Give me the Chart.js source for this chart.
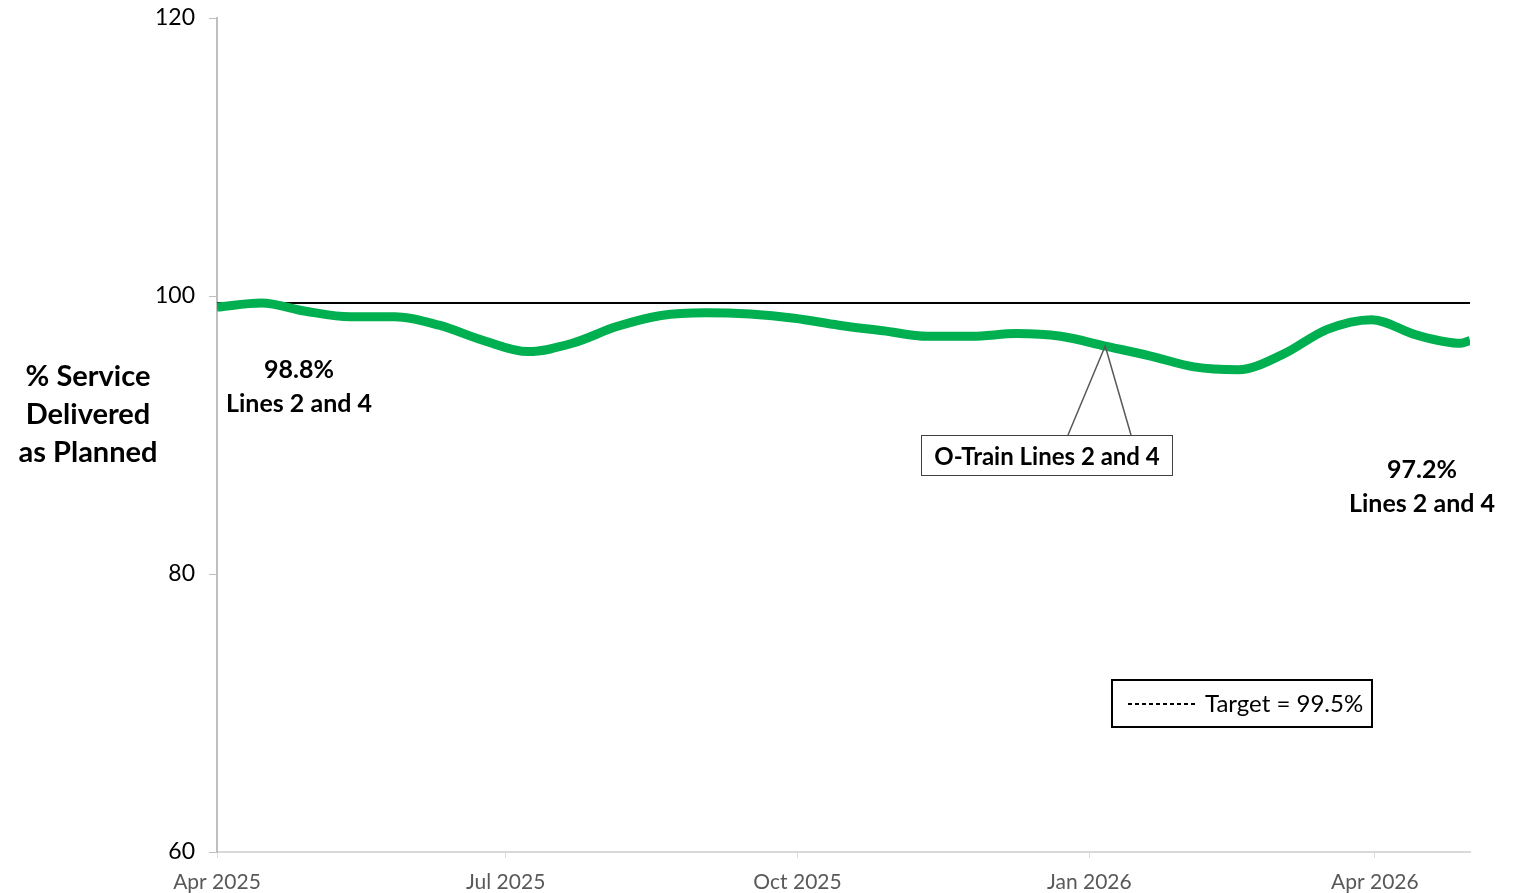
<!DOCTYPE html>
<html>
<head>
<meta charset="utf-8">
<script src="https://cdn.jsdelivr.net/npm/chart.js@4"></script>
<style>
  html, body { margin: 0; padding: 0; background: #fff; }
  #wrap { width: 1524px; height: 893px; }
</style>
</head>
<body>
<div id="wrap"><canvas id="chart"></canvas></div>
<script>
// days since 1 Apr 2025
const days = [0, 14, 28, 42, 56, 70, 84, 98, 112, 126, 140, 154, 168, 182, 196, 210,
              224, 238, 252, 266, 280, 294, 308, 322, 336, 350, 364, 378, 392, 395];
const serviceDelivered = [99.2, 99.5, 98.9, 98.5, 98.5, 97.9, 96.8, 96.0, 96.6, 97.8, 98.6, 98.8, 98.7, 98.4, 97.9, 97.5,
                          97.1, 97.1, 97.3, 97.1, 96.4, 95.7, 94.9, 94.7, 95.8, 97.6, 98.3, 97.2, 96.6, 96.8];
const targetValue = 99.5;
const tickDays = [0, 91, 183, 275, 365];
const tickLabels = ['Apr 2025', 'Jul 2025', 'Oct 2025', 'Jan 2026', 'Apr 2026'];
const yTicks = [60, 80, 100, 120];
const calloutDay = 280;

const FONT = 'Lato, "Open Sans", sans-serif';

const lineData = days.map((d, i) => ({ x: d, y: serviceDelivered[i] }));
const targetData = [{ x: days[0], y: targetValue }, { x: days[days.length - 1], y: targetValue }];

// Text, callout and target box
const extrasPlugin = {
    id: 'extras',
    afterDraw(chart) {
        const ctx = chart.ctx;
        const xs = chart.scales.x;
        const ys = chart.scales.y;
        ctx.save();
        ctx.fillStyle = '#000';
        ctx.textAlign = 'center';
        ctx.textBaseline = 'middle';

        // axis title
        ctx.font = 'bold 29px ' + FONT;
        ctx.fillText('% Service', 88, 377);
        ctx.fillText('Delivered', 88, 415);
        ctx.fillText('as Planned', 88, 453);

        // value labels
        ctx.font = 'bold 25px ' + FONT;
        ctx.fillText('98.8%', 299, 370);
        ctx.fillText('Lines 2 and 4', 299, 404);
        ctx.fillText('97.2%', 1422, 470);
        ctx.fillText('Lines 2 and 4', 1422, 504);

        // callout
        const idx = days.indexOf(calloutDay);
        const px = xs.getPixelForValue(calloutDay);
        const py = ys.getPixelForValue(serviceDelivered[idx]);
        ctx.strokeStyle = '#595959';
        ctx.lineWidth = 1.5;
        ctx.beginPath();
        ctx.moveTo(1068, 435);
        ctx.lineTo(px, py);
        ctx.lineTo(1131, 435);
        ctx.stroke();
        ctx.fillStyle = '#fff';
        ctx.fillRect(921, 435, 251, 40);
        ctx.strokeStyle = '#404040';
        ctx.lineWidth = 1;
        ctx.strokeRect(921.5, 435.5, 251, 40);
        ctx.fillStyle = '#000';
        ctx.font = 'bold 24px ' + FONT;
        ctx.fillText('O-Train Lines 2 and 4', 1047, 457);

        // target box
        ctx.strokeStyle = '#000';
        ctx.lineWidth = 2;
        ctx.strokeRect(1112, 680, 260, 47);
        ctx.setLineDash([4, 3]);
        ctx.beginPath();
        ctx.moveTo(1128, 704);
        ctx.lineTo(1197, 704);
        ctx.stroke();
        ctx.setLineDash([]);
        ctx.textAlign = 'left';
        ctx.font = '24px ' + FONT;
        ctx.fillText('Target = 99.5%', 1205, 704);
        ctx.restore();
    }
};

new Chart(document.getElementById('chart'), {
    type: 'line',
    data: {
        datasets: [
            {
                label: 'Target',
                data: targetData,
                borderColor: '#000',
                borderWidth: 2,
                pointRadius: 0,
                order: 2
            },
            {
                label: 'O-Train Lines 2 and 4',
                data: lineData,
                borderColor: '#00B050',
                borderWidth: 9,
                pointRadius: 0,
                cubicInterpolationMode: 'monotone',
                order: 1
            }
        ]
    },
    options: {
        responsive: true,
        maintainAspectRatio: false,
        animation: false,
        layout: { padding: { top: 18, right: 54, left: 0, bottom: 0 } },
        plugins: {
            legend: { display: false },
            tooltip: { enabled: false }
        },
        scales: {
            x: {
                type: 'linear',
                min: 0,
                max: 395,
                afterBuildTicks: axis => { axis.ticks = tickDays.map(v => ({ value: v })); },
                afterFit: axis => { axis.height = 41; },
                ticks: {
                    autoSkip: false,
                    maxRotation: 0,
                    color: '#595959',
                    font: { family: FONT, size: 21 },
                    padding: 12,
                    callback: v => tickLabels[tickDays.indexOf(v)]
                },
                grid: { drawOnChartArea: false, drawTicks: true, tickLength: 6, color: '#d9d9d9' },
                border: { color: '#d9d9d9', width: 2 }
            },
            y: {
                min: 60,
                max: 120,
                afterBuildTicks: axis => { axis.ticks = yTicks.map(v => ({ value: v })); },
                afterFit: axis => {
                    axis.width = 217;
                    axis.paddingTop = 0;
                    axis.paddingBottom = 0;
                },
                ticks: {
                    color: '#000',
                    font: { family: FONT, size: 23 },
                    padding: 14
                },
                grid: { drawOnChartArea: false, drawTicks: true, tickLength: 8, color: '#bfbfbf' },
                border: { color: '#bfbfbf', width: 2 }
            }
        }
    },
    plugins: [extrasPlugin]
});
</script>
</body>
</html>
